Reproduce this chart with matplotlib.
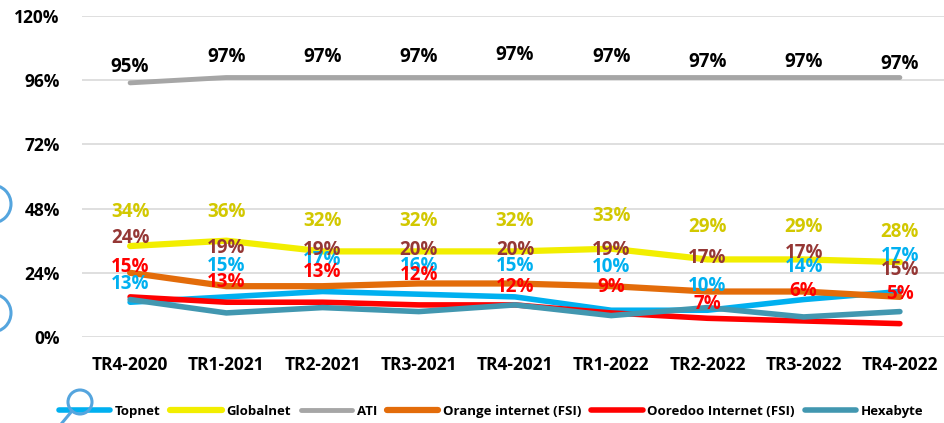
import matplotlib
matplotlib.use("Agg")
import matplotlib.pyplot as plt
from matplotlib.patches import Ellipse
from matplotlib.lines import Line2D

plt.rcParams.update({
    "font.family": ["Open Sans", "DejaVu Sans"],
    "font.size": 12.5,
})

# Data (values in %)
quarters = ["TR4-2020", "TR1-2021", "TR2-2021", "TR3-2021", "TR4-2021",
            "TR1-2022", "TR2-2022", "TR3-2022", "TR4-2022"]
topnet = [13, 15, 17, 16, 15, 10, 10, 14, 17]
globalnet = [34, 36, 32, 32, 32, 33, 29, 29, 28]
ati = [95, 97, 97, 97, 97, 97, 97, 97, 97]
orange = [24, 19, 19, 20, 20, 19, 17, 17, 15]
ooredoo = [15, 13, 13, 12, 12, 9, 7, 6, 5]
hexabyte = [14, 9, 11, 9.5, 12, 8, 11, 7.5, 9.5]  # no labels in source

y_ticks = [0, 24, 48, 72, 96, 120]

# label offsets above the line (pixels), the source labels were moved by hand
off_topnet = [18, 31, 32, 28, 31, 43, 24, 33, 36]
off_globalnet = [34, 29, 30, 30, 30, 33, 32, 32, 30]
off_ati = [16, 21, 21, 21, 23, 21, 16, 16, 14]
off_orange = [35, 38, 36, 34, 34, 36, 34, 39, 27]
off_ooredoo = [30, 20, 30, 30, 18, 26, 14, 30, 30]

W, H = 944, 423
fig = plt.figure(figsize=(W / 100, H / 100), dpi=100)
ax = fig.add_axes([82 / W, (H - 337) / H, 866 / W, 321 / H])

x = list(range(len(quarters)))

series = [
    ("Topnet", topnet, "#00B0F0", 4.0, "#00B0F0", off_topnet),
    ("Globalnet", globalnet, "#F2EE00", 4.5, "#D2C800", off_globalnet),
    ("ATI", ati, "#A6A6A6", 3.5, "black", off_ati),
    ("Orange internet (FSI)", orange, "#E36C0A", 4.5, "#953735", off_orange),
    ("Ooredoo Internet (FSI)", ooredoo, "#FF0000", 4.0, "#FF0000", off_ooredoo),
    ("Hexabyte", hexabyte, "#4297B0", 4.0, None, None),
]

for i, (name, vals, col, lw, lab_col, offs) in enumerate(series):
    ax.plot(x, vals, color=col, linewidth=lw, solid_capstyle="round",
            solid_joinstyle="round", label=name, zorder=3 + i * 0.1)

# data labels on top of lines
for name, vals, col, lw, lab_col, offs in series:
    if lab_col is None:
        continue
    for xi, v, o in zip(x, vals, offs):
        ax.annotate(f"{v:g}%", (xi, v), xytext=(0, o), textcoords="offset pixels",
                    ha="center", va="center", fontsize=13.5, fontweight="bold",
                    color=lab_col, zorder=10)

ax.set_xlim(-0.5, 8.5)
ax.set_ylim(0, 120)
ax.set_yticks(y_ticks)
ax.set_yticklabels([f"{t}%" for t in y_ticks], fontweight="bold")
ax.set_xticks(x)
ax.set_xticklabels(quarters, fontweight="bold")
ax.tick_params(axis="y", length=0, pad=16)
ax.tick_params(axis="x", length=0, pad=14)
ax.grid(axis="y", color="#D9D9D9", linewidth=1.2)
ax.set_axisbelow(True)
for s in ax.spines.values():
    s.set_visible(False)

fig.legend(loc="center", bbox_to_anchor=(491 / W, 12 / H), ncol=6, frameon=False,
           prop={"weight": "bold", "size": 9.5}, handlelength=3.9,
           handletextpad=0.35, columnspacing=0.75)

# blue ring decorations from the slide
ring = "#55A5DE"
for cx, cy, r in [(-8, 204, 19), (-8, 313, 19), (80, 402, 12)]:
    fig.add_artist(Ellipse((cx / W, (H - cy) / H), 2 * r / W, 2 * r / H,
                           transform=fig.transFigure, fill=False,
                           edgecolor=ring, linewidth=2.2, zorder=20))
fig.add_artist(Line2D([72 / W, 62 / W], [(H - 411) / H, (H - 423) / H],
                      transform=fig.transFigure, color=ring, linewidth=2.2, zorder=20))

fig.savefig("out.png", dpi=100)
